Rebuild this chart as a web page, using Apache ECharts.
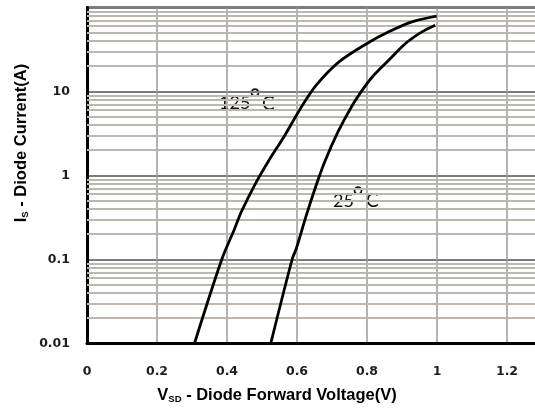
<!DOCTYPE html>
<html>
<head>
<meta charset="utf-8">
<script src="https://cdn.jsdelivr.net/npm/echarts@6/dist/echarts.min.js"></script>
<style>
html,body{margin:0;padding:0;background:#fff;}
#c{width:535px;height:409px;}
</style>
</head>
<body>
<div id="c"></div>
<script>
// ---- data ----
const xTicks = [0, 0.2, 0.4, 0.6, 0.8, 1, 1.2];
const yTicks = [0.01, 0.1, 1, 10];
const minorGridValues = [0.02,0.03,0.04,0.05,0.06,0.07,0.08,0.09,
                         0.2,0.3,0.4,0.5,0.6,0.7,0.8,0.9,
                         2,3,4,5,6,7,8,9,
                         20,30,40,50,60,70,80,90];
const v125 = [0.307,0.385,0.422,0.441,0.479,0.517,0.565,0.613,0.655,0.720,0.800,0.862,0.928,0.999];
const i125 = [0.01,0.1,0.234,0.37,0.77,1.45,3.0,6.6,11.9,22.5,37.3,51.3,67.5,79];
const v25 = [0.525,0.586,0.598,0.627,0.655,0.679,0.717,0.755,0.786,0.815,0.862,0.910,0.957,0.995];
const i25 = [0.01,0.1,0.135,0.34,0.77,1.45,3.3,6.5,10.3,14.9,23.6,37.3,51.3,61.5];

const chart = echarts.init(document.getElementById('c'), null, {renderer: 'canvas'});

function pairs(xs, ys){ return xs.map((x,i)=>[x, ys[i]]); }
function nearTick(v, list){ return list.some(t => Math.abs(t - v) < 1e-6 * Math.max(1, Math.abs(t))); }

const tickFont = {fontFamily: 'DejaVu Sans', fontWeight: 'bold', fontSize: 12.5, color: '#1e1e1e'};
const titleFont = 'bold 16.5px "Liberation Sans", Arial, sans-serif';
const subFont = 'bold 9.5px "Liberation Sans", Arial, sans-serif';

chart.setOption({
  animation: false,
  backgroundColor: '#fff',
  grid: {left: 87, top: 7.5, width: 455, height: 336, show: true, borderColor: '#000', borderWidth: 2,
         containLabel: false, outerBoundsMode: 'none'},
  xAxis: {
    type: 'value', min: 0, max: 1.3, interval: 0.2,
    axisLine: {show: true, lineStyle: {color: '#000', width: 3}},
    axisTick: {show: false},
    axisLabel: {margin: 22, ...tickFont, showMaxLabel: false,
      formatter: v => nearTick(v, xTicks) ? String(+v.toFixed(1)) : ''},
    splitLine: {show: true, lineStyle: {color: '#9a9a9a', width: 1.5}}
  },
  yAxis: {
    type: 'log', logBase: 10, min: 0.01, max: 100,
    axisLine: {show: true, onZero: false, lineStyle: {color: '#000', width: 3}},
    axisTick: {show: false},
    axisLabel: {margin: 17, ...tickFont,
      formatter: v => nearTick(v, yTicks) ? String(+Number(v).toPrecision(3)) : ''},
    splitLine: {show: true, lineStyle: {color: '#7c7c7c', width: 2}}
  },
  series: [
    {
      type: 'line', name: 'grid', data: [], silent: true, symbol: 'none',
      markLine: {
        silent: true, symbol: ['none','none'], z: 1, animation: false,
        label: {show: false},
        lineStyle: {color: '#bcb8b0', width: 2, type: 'solid'},
        data: minorGridValues.map(v => ({yAxis: v}))
      }
    },
    {
      type: 'line', name: '125°C', data: pairs(v125, i125), symbol: 'none', smooth: 0.3, z: 5,
      lineStyle: {color: '#000', width: 2.8}
    },
    {
      type: 'line', name: '25°C', data: pairs(v25, i25), symbol: 'none', smooth: 0.3, z: 5,
      lineStyle: {color: '#000', width: 2.8}
    }
  ],
  graphic: [
    {type: 'text', x: 277, y: 395, style: {
      text: '{a|V}{b|SD}{a| - Diode Forward Voltage(V)}',
      align: 'center', verticalAlign: 'middle',
      rich: {
        a: {font: titleFont, fill: '#000', lineHeight: 20},
        b: {font: subFont, fill: '#000', lineHeight: 20, verticalAlign: 'bottom', padding: [0,0,1,0]}
      }}},
    {type: 'text', x: 21, y: 143, rotation: Math.PI/2, style: {
      text: '{a|I}{b|S}{a| - Diode Current(A)}',
      align: 'center', verticalAlign: 'middle',
      rich: {
        a: {font: titleFont, fill: '#000', lineHeight: 20},
        b: {font: subFont, fill: '#000', lineHeight: 20, verticalAlign: 'bottom', padding: [0,0,1,0]}
      }}},
    // 125°C label
    {type: 'text', x: 219, y: 103.5, style: {text: '125', font: '18px Lato, sans-serif', fill: '#111', align: 'left', verticalAlign: 'middle'}},
    {type: 'text', x: 255, y: 102, style: {text: '°', font: '28px "DejaVu Sans", sans-serif', fill: '#111', align: 'center', verticalAlign: 'middle'}},
    {type: 'text', x: 262, y: 103.5, style: {text: 'C', font: '19px Lato, sans-serif', fill: '#111', align: 'left', verticalAlign: 'middle'}},
    // 25°C label
    {type: 'text', x: 333, y: 201, style: {text: '25', font: '18px Lato, sans-serif', fill: '#111', align: 'left', verticalAlign: 'middle'}},
    {type: 'text', x: 358, y: 200, style: {text: '°', font: '28px "DejaVu Sans", sans-serif', fill: '#111', align: 'center', verticalAlign: 'middle'}},
    {type: 'text', x: 366, y: 201, style: {text: 'C', font: '19px Lato, sans-serif', fill: '#111', align: 'left', verticalAlign: 'middle'}}
  ]
});
</script>
</body>
</html>
